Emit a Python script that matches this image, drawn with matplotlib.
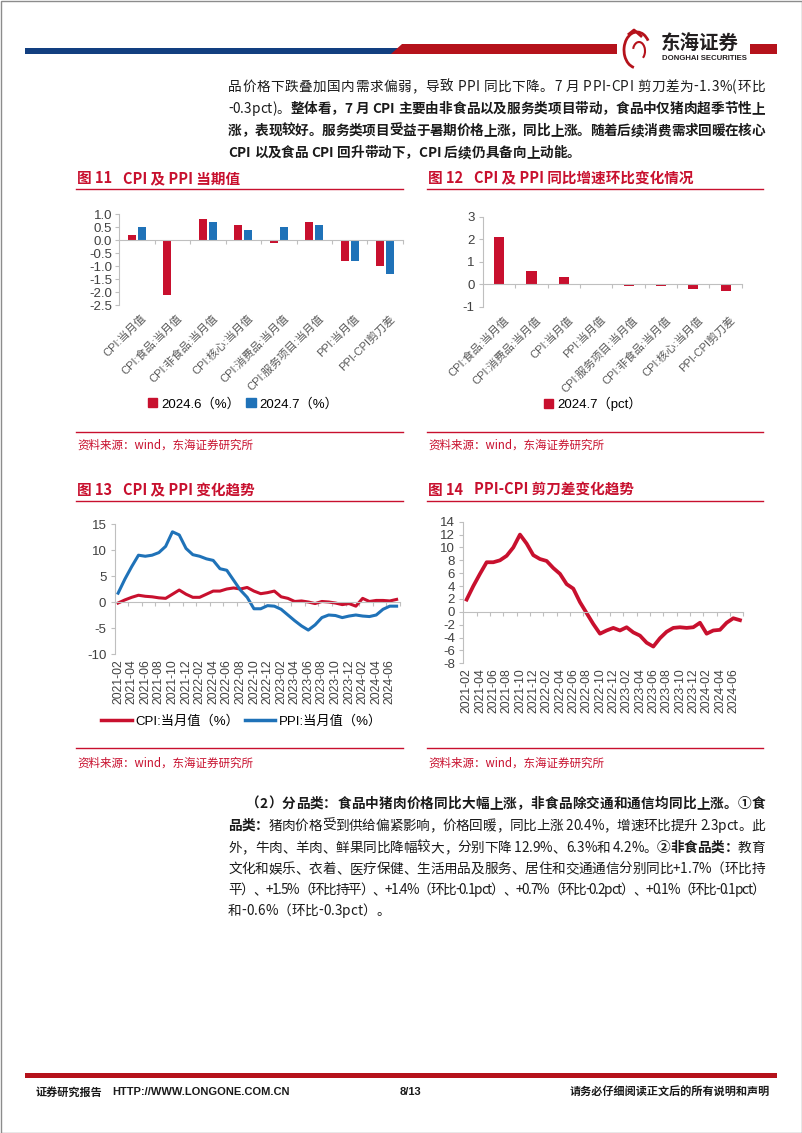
import numpy as np
import pandas as pd
import matplotlib
matplotlib.use('Agg')
import matplotlib.pyplot as plt
from matplotlib.patches import Rectangle, Polygon, Arc
from matplotlib.lines import Line2D
from matplotlib.font_manager import FontProperties
from matplotlib.transforms import blended_transform_factory

W, H = 802, 1133
RED = '#C8102E'
BLUE = '#1F72B8'
TXT = '#404040'
AXIS = '#BFBFBF'
NUM_FONT = ['Liberation Sans', 'Noto Sans CJK SC']
CJK = ['Noto Sans CJK SC', 'DejaVu Sans']

# ---- data ----
cat11 = ['CPI:当月值', 'CPI:食品:当月值', 'CPI:非食品:当月值', 'CPI:核心:当月值',
         'CPI:消费品:当月值', 'CPI:服务项目:当月值', 'PPI:当月值', 'PPI-CPI剪刀差']
jun24 = [0.2, -2.1, 0.8, 0.6, -0.1, 0.7, -0.8, -1.0]
jul24 = [0.5, 0.0, 0.7, 0.4, 0.5, 0.6, -0.8, -1.3]

cat12 = ['CPI:食品:当月值', 'CPI:消费品:当月值', 'CPI:当月值', 'PPI:当月值',
         'CPI:服务项目:当月值', 'CPI:非食品:当月值', 'CPI:核心:当月值', 'PPI-CPI剪刀差']
chg24 = [2.1, 0.6, 0.3, 0.0, -0.1, -0.1, -0.2, -0.3]

months = pd.period_range('2021-02', '2024-07', freq='M').strftime('%Y-%m').tolist()
cpi = [-0.2, 0.4, 0.9, 1.3, 1.1, 1.0, 0.8, 0.7, 1.5, 2.3, 1.5,
       0.9, 0.9, 1.5, 2.1, 2.1, 2.5, 2.7, 2.5, 2.8, 2.1, 1.6, 1.8,
       2.1, 1.0, 0.7, 0.1, 0.2, 0.0, -0.3, 0.1, 0.0, -0.2, -0.5, -0.3,
       -0.8, 0.7, 0.1, 0.3, 0.3, 0.2, 0.5]
ppi = [1.7, 4.4, 6.8, 9.0, 8.8, 9.0, 9.5, 10.7, 13.5, 12.9, 10.3,
       9.1, 8.8, 8.3, 8.0, 6.4, 6.1, 4.2, 2.3, 0.9, -1.3, -1.3, -0.7,
       -0.8, -1.4, -2.5, -3.6, -4.6, -5.4, -4.4, -3.0, -2.5, -2.6, -3.0, -2.7,
       -2.5, -2.7, -2.8, -2.5, -1.4, -0.8, -0.8]
gap = [1.9, 4.0, 5.9, 7.7, 7.7, 8.0, 8.7, 10.0, 12.0, 10.6, 8.8,
       8.2, 7.9, 6.8, 5.9, 4.3, 3.6, 1.5, -0.2, -1.9, -3.4, -2.9, -2.5,
       -2.9, -2.4, -3.2, -3.7, -4.8, -5.4, -4.1, -3.1, -2.5, -2.4, -2.5, -2.4,
       -1.7, -3.4, -2.9, -2.8, -1.7, -1.0, -1.3]

fig = plt.figure(figsize=(W / 100, H / 100), dpi=100)
page = fig.add_axes([0, 0, 1, 1])
page.set_xlim(0, W)
page.set_ylim(H, 0)
page.axis('off')
rend = fig.canvas.get_renderer()


def add_ax(l, t, r, b):
    return fig.add_axes([l / W, 1 - b / H, (r - l) / W, (b - t) / H])


# ---- justified body text, char by char ----
_wcache = {}


def char_w(ch, fp):
    key = (ch, fp.get_weight(), fp.get_size())
    if key not in _wcache:
        w2 = rend.get_text_width_height_descent('中' + ch + '中', fp, ismath=False)[0]
        w0 = rend.get_text_width_height_descent('中中', fp, ismath=False)[0]
        _wcache[key] = w2 - w0
    return _wcache[key]


def body_line(segs, x0, y, x1=None, size=9.8):
    chars = []
    for s, bold in segs:
        fp = FontProperties(family=CJK, size=size, weight='bold' if bold else 'normal')
        for ch in s:
            chars.append((ch, fp, char_w(ch, fp)))
    total = sum(c[2] for c in chars)
    extra = 0 if x1 is None else (x1 - x0 - total) / (len(chars) - 1)
    x = x0
    for ch, fp, w in chars:
        if ch != ' ':
            page.text(x, y + 5, ch, fontproperties=fp, va='baseline', ha='left', color='#1a1a1a')
        x += w + extra


# ---- header ----
page.add_patch(Rectangle((25, 47.5), 375, 6.5, color='#123F80', lw=0))
page.add_patch(Polygon([(391, 54), (402, 44), (617, 44), (617, 54)], closed=True, color='#B5121B', lw=0))
page.add_patch(Rectangle((750, 44), 27, 10, color='#B5121B', lw=0))
page.add_patch(Arc((637, 50), 26, 36, theta1=100, theta2=320, color='#B5121B', lw=2.0))
page.add_patch(Arc((639, 51), 12, 18, theta1=200, theta2=60, color='#B5121B', lw=1.5))
page.plot([629, 634, 641], [34, 30, 36], color='#B5121B', lw=2)
page.text(661, 44, '东海证券', fontsize=14, fontweight='bold', family=CJK, color='#231F20', va='center')
page.text(662, 59, 'DONGHAI SECURITIES', fontsize=5.6, fontweight='bold', family=NUM_FONT, color='#231F20', va='center')

# ---- top paragraph ----
X0, X1 = 228, 765
body_line([('品价格下跌叠加国内需求偏弱，导致 PPI 同比下降。7 月 PPI-CPI 剪刀差为-1.3%(环比', False)], X0, 86, X1)
body_line([('-0.3pct)。', False), ('整体看，7 月 CPI 主要由非食品以及服务类项目带动，食品中仅猪肉超季节性上', True)], X0, 108, X1)
body_line([('涨，表现较好。服务类项目受益于暑期价格上涨，同比上涨。随着后续消费需求回暖在核心', True)], X0, 130, X1)
body_line([('CPI 以及食品 CPI 回升带动下，CPI 后续仍具备向上动能。', True)], X0, 152)


# ---- chart titles, rules, sources ----
def title(x, y, num, txt, x_end):
    page.text(x, y, num, fontsize=10.5, fontweight='bold', family=CJK, color=RED, va='center')
    page.text(x + 46, y, txt, fontsize=10.5, fontweight='bold', family=CJK, color=RED, va='center')
    page.plot([x - 1, x_end], [y + 11, y + 11], color=RED, lw=1.0)


def source(x, y, x_end, rule_y):
    page.plot([x - 1, x_end], [rule_y, rule_y], color=RED, lw=1.0)
    page.text(x, y, '资料来源：wind，东海证券研究所', fontsize=8.3, family=CJK, color=RED, va='center')


title(77, 178, '图 11', 'CPI 及 PPI 当期值', 403)
title(428, 178, '图 12', 'CPI 及 PPI 同比增速环比变化情况', 763)
title(77, 490, '图 13', 'CPI 及 PPI 变化趋势', 403)
title(428, 490, '图 14', 'PPI-CPI 剪刀差变化趋势', 763)
source(77, 445, 403, 432)
source(428, 445, 763, 432)
source(77, 763, 403, 748)
source(428, 763, 763, 748)


def style(ax, ylim, yticks, fmt, pad=3):
    ax.set_ylim(*ylim)
    ax.set_yticks(yticks)
    ax.set_yticklabels([fmt.format(v) for v in yticks], family=NUM_FONT, fontsize=9.5, color=TXT)
    for s in ('top', 'right'):
        ax.spines[s].set_visible(False)
    ax.spines['left'].set_color(AXIS)
    ax.spines['bottom'].set_color(AXIS)
    ax.spines['bottom'].set_position(('data', 0))
    ax.tick_params(axis='y', length=3, color=AXIS, pad=pad, width=0.8)
    ax.tick_params(axis='x', length=3, color=AXIS, labelbottom=False, width=0.8)
    ax.patch.set_alpha(0)


def cat_labels(ax, cats, hpx):
    tr = blended_transform_factory(ax.transData, ax.transAxes)
    for i, c in enumerate(cats):
        ax.text(i + 0.12, -8 / hpx, c, transform=tr, rotation=45, rotation_mode='anchor',
                ha='right', va='top', fontsize=8, family=NUM_FONT, color='#595959')


# ---- chart 11 ----
ax11 = add_ax(119, 214.3, 403, 305)
x = np.arange(len(cat11))
ax11.bar(x - 0.14, jun24, width=0.225, color=RED)
ax11.bar(x + 0.14, jul24, width=0.225, color=BLUE)
ax11.set_xlim(-0.5, len(cat11) - 0.5)
ax11.set_xticks(np.arange(0.5, len(cat11), 1))
style(ax11, (-2.5, 1.0), [1.0, 0.5, 0.0, -0.5, -1.0, -1.5, -2.0, -2.5], '{:.1f}', pad=2)
cat_labels(ax11, cat11, 90.7)
fig.legend([Rectangle((0, 0), 1, 1, color=RED), Rectangle((0, 0), 1, 1, color=BLUE)],
           ['2024.6（%）', '2024.7（%）'], loc='center', bbox_to_anchor=(243 / W, 1 - 404 / H),
           ncol=2, frameon=False, handlelength=0.7, handleheight=0.7, handletextpad=0.3,
           columnspacing=0.5, prop=FontProperties(family=NUM_FONT, size=9.5))

# ---- chart 12 ----
ax12 = add_ax(483, 216.7, 741.7, 306.7)
x = np.arange(len(cat12))
ax12.bar(x, chg24, width=0.31, color=RED)
ax12.set_xlim(-0.5, len(cat12) - 0.5)
ax12.set_xticks(np.arange(0.5, len(cat12), 1))
style(ax12, (-1, 3), [3, 2, 1, 0, -1], '{:d}')
cat_labels(ax12, cat12, 90)
fig.legend([Rectangle((0, 0), 1, 1, color=RED)], ['2024.7（pct）'], loc='center',
           bbox_to_anchor=(593 / W, 1 - 404 / H), frameon=False, handlelength=0.7,
           handleheight=0.7, handletextpad=0.3, prop=FontProperties(family=NUM_FONT, size=9.5))


def date_labels(ax, hpx, off):
    tr = blended_transform_factory(ax.transData, ax.transAxes)
    for i in range(0, len(months), 2):
        ax.text(i, -off / hpx, months[i], transform=tr, rotation=90, ha='center', va='top',
                fontsize=8.8, family=NUM_FONT, color=TXT)


# ---- chart 13 ----
ax13 = add_ax(114.7, 524, 400, 654)
t = np.arange(len(months))
ax13.plot(t, cpi, color=RED, lw=2.2)
ax13.plot(t, ppi, color=BLUE, lw=2.2)
ax13.set_xlim(-0.5, len(months) - 0.5)
ax13.set_xticks(np.arange(1.5, len(months), 2))
style(ax13, (-10, 15), [15, 10, 5, 0, -5, -10], '{:d}')
date_labels(ax13, 130, 5)
fig.legend([Line2D([], [], color=RED, lw=2.5), Line2D([], [], color=BLUE, lw=2.5)],
           ['CPI:当月值（%）', 'PPI:当月值（%）'], loc='center', bbox_to_anchor=(242 / W, 1 - 721 / H),
           ncol=2, frameon=False, handlelength=2.3, handletextpad=0.3, columnspacing=0.4,
           prop=FontProperties(family=NUM_FONT, size=9.5))

# ---- chart 14 ----
ax14 = add_ax(463.3, 521.7, 743.3, 663.3)
ax14.plot(t, gap, color=RED, lw=2.7)
ax14.set_xlim(-0.5, len(months) - 0.5)
ax14.set_xticks(np.arange(1.5, len(months), 2))
style(ax14, (-8, 14), list(range(14, -9, -2)), '{:d}')
date_labels(ax14, 141.6, 5)

# ---- section (2) ----
body_line([('（2）分品类：食品中猪肉价格同比大幅上涨，非食品除交通和通信均同比上涨。①食', True)], 246, 803, X1)
body_line([('品类：', True), ('猪肉价格受到供给偏紧影响，价格回暖，同比上涨 20.4%，增速环比提升 2.3pct。此', False)], X0, 825, X1)
body_line([('外，牛肉、羊肉、鲜果同比降幅较大，分别下降 12.9%、6.3%和 4.2%。', False), ('②非食品类：', True), ('教育', False)], X0, 847, X1)
body_line([('文化和娱乐、衣着、医疗保健、生活用品及服务、居住和交通通信分别同比+1.7%（环比持', False)], X0, 868, X1)
body_line([('平）、+1.5%（环比持平）、+1.4%（环比-0.1pct）、+0.7%（环比-0.2pct）、+0.1%（环比-0.1pct）', False)], X0, 889, X1)
body_line([('和-0.6%（环比-0.3pct）。', False)], X0, 910)

# ---- footer ----
page.add_patch(Rectangle((25, 1073), 752, 5, color='#B5121B', lw=0))
page.text(36, 1092, '证券研究报告', fontsize=8, fontweight='bold', family=CJK, color='#1a1a1a', va='center')
page.text(112, 1092, 'HTTP://WWW.LONGONE.COM.CN', fontsize=8, fontweight='bold', family=NUM_FONT, color='#1a1a1a', va='center')
page.text(400, 1092, '8/13', fontsize=8, fontweight='bold', family=NUM_FONT, color='#1a1a1a', va='center')
page.text(770, 1092, '请务必仔细阅读正文后的所有说明和声明', fontsize=8, fontweight='bold', family=CJK, color='#1a1a1a', va='center', ha='right')
page.add_patch(Rectangle((0.5, 0.5), W - 1, H - 1, fill=False, ec='#8c8c8c', lw=1))

fig.savefig('out.png', dpi=100)
